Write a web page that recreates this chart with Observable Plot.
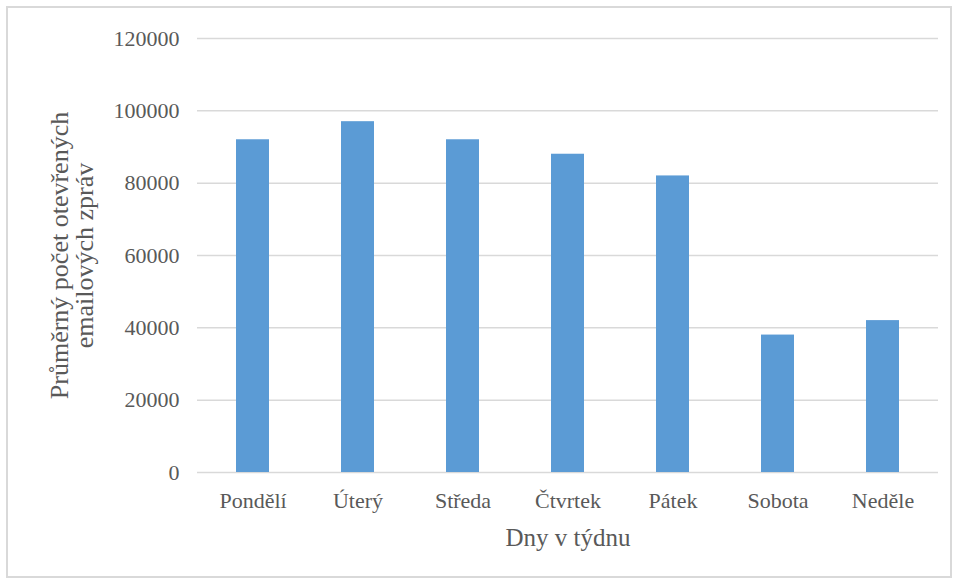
<!DOCTYPE html>
<html>
<head>
<meta charset="utf-8">
<script src="https://cdn.jsdelivr.net/npm/d3@7"></script>
<script src="https://cdn.jsdelivr.net/npm/@observablehq/plot@0.6"></script>
<style>
  html, body { margin: 0; padding: 0; background: #fff; }
  #wrap { position: relative; width: 957px; height: 579px; overflow: hidden; }
  #border { position: absolute; left: 6px; top: 6px; width: 942px; height: 568px;
            border: 2px solid #d9d9d9; pointer-events: none; }
</style>
</head>
<body>
<div id="wrap"><div id="border"></div></div>
<script>
const days = ["Pondělí", "Úterý", "Středa", "Čtvrtek", "Pátek", "Sobota", "Neděle"];
const values = [92000, 97000, 92000, 88000, 82000, 38000, 42000];
const yTicks = [0, 20000, 40000, 60000, 80000, 100000, 120000];
const xTitle = "Dny v týdnu";
const yTitle = "Průměrný počet otevřených\nemailových zpráv";

const data = days.map((d, i) => ({day: d, value: values[i]}));

const chart = Plot.plot({
  width: 957,
  height: 579,
  marginLeft: 197,
  marginRight: 19,
  marginTop: 38,
  marginBottom: 107,
  style: {
    fontFamily: "'Liberation Serif', 'Times New Roman', serif",
    fontSize: "22px",
    color: "#595959",
    background: "transparent",
    overflow: "visible"
  },
  x: {
    domain: days,
    paddingInner: 0.69,
    paddingOuter: 0.345,
    label: null,
    tickSize: 0,
    tickPadding: 20
  },
  y: {
    domain: [0, 120000],
    ticks: yTicks,
    tickFormat: d3.format("d"),
    tickSize: 0,
    tickPadding: 18,
    label: null
  },
  marks: [
    Plot.ruleY(yTicks, {stroke: "#d9d9d9", strokeWidth: 1.5}),
    Plot.barY(data, {x: "day", y: "value", fill: "#5B9BD5"}),
    Plot.text([xTitle], {frameAnchor: "bottom", textAnchor: "middle", lineAnchor: "bottom", dy: 73, fontSize: 25, fill: "#595959"}),
    Plot.text([yTitle], {frameAnchor: "left", textAnchor: "middle", lineAnchor: "middle", rotate: -90, dx: -125, fontSize: 26, lineHeight: 0.95, fill: "#595959"})
  ]
});
document.getElementById("wrap").appendChild(chart);
</script>
</body>
</html>
